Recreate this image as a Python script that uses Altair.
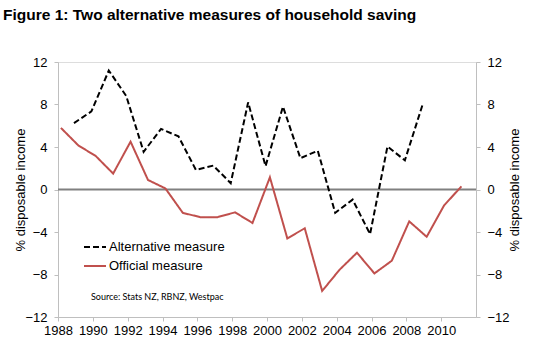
import altair as alt
import pandas as pd

# Official measure: March years 1988-2011
official_years = list(range(1988, 2012))
official_values = [5.8, 4.15, 3.15, 1.5, 4.5, 0.9, 0.1, -2.2, -2.6, -2.6, -2.15, -3.15,
                   1.15, -4.6, -3.65, -9.55, -7.55, -5.95, -7.9, -6.7, -3.0, -4.45, -1.5, 0.3]
official_month = 3

# Alternative measure: December years 1988-2008
alt_years = list(range(1988, 2009))
alt_values = [6.25, 7.35, 11.2, 8.8, 3.55, 5.7, 5.0, 1.85, 2.25, 0.6, 8.2, 2.2, 7.8,
              2.95, 3.65, -2.2, -0.95, -4.2, 4.05, 2.75, 7.9]
alt_month = 12

series_names = ["Alternative measure", "Official measure"]
series_colors = ["#000000", "#C0504D"]
x_ticks = list(range(1988, 2011, 2))
y_ticks = [-12, -8, -4, 0, 4, 8, 12]

rows = []
for y, v in zip(alt_years, alt_values):
    rows.append({"t": y + (alt_month - 1) / 12, "v": v, "s": series_names[0]})
for y, v in zip(official_years, official_values):
    rows.append({"t": y + (official_month - 1) / 12, "v": v, "s": series_names[1]})
df = pd.DataFrame(rows)

FONT = "Liberation Sans, Arial"
W, H = 418, 255

xscale = alt.Scale(domain=[1988, 2012], nice=False, zero=False)
yscale = alt.Scale(domain=[-12, 12], nice=False)


def yaxis(orient, tx):
    return alt.Axis(orient=orient, values=y_ticks, title="% disposable income", grid=False,
                    tickSize=4, labelPadding=7, labelFontSize=13, labelFont=FONT,
                    labelColor="#000", domainColor="#BFBFBF", tickColor="#BFBFBF",
                    titleFont=FONT, titleFontSize=13, titleFontWeight="normal",
                    titleColor="#000", titleAngle=270, titleX=tx, titleY=H / 2,
                    titleAlign="center", titleBaseline="middle")


legend = alt.Legend(title=None, orient="none", legendX=25, legendY=173,
                    symbolType="stroke", symbolSize=484, symbolStrokeWidth=2,
                    labelFont=FONT, labelFontSize=13, labelColor="#000",
                    labelOffset=2, rowPadding=-2, padding=0)

lines = alt.Chart(df).mark_line(strokeWidth=2).encode(
    x=alt.X("t:Q", scale=xscale,
            axis=alt.Axis(values=x_ticks, format="d", title=None, grid=False,
                          tickSize=4, labelPadding=3, labelFontSize=13,
                          labelFont=FONT, labelColor="#000", domainColor="#BFBFBF",
                          tickColor="#BFBFBF", labelFlush=False, labelOverlap=False)),
    y=alt.Y("v:Q", scale=yscale, axis=yaxis("left", -38)),
    color=alt.Color("s:N", scale=alt.Scale(domain=series_names, range=series_colors),
                    legend=legend),
    strokeDash=alt.StrokeDash("s:N", scale=alt.Scale(domain=series_names,
                                                     range=[[6, 3], [1, 0]]),
                              legend=legend),
)

zero = alt.Chart(pd.DataFrame({"z": [0]})).mark_rule(color="#808080", strokeWidth=2).encode(
    y=alt.Y("z:Q", scale=yscale, axis=None)
)

right_axis = alt.Chart(pd.DataFrame({"z": [0]})).mark_rule(opacity=0).encode(
    y=alt.Y("z:Q", scale=yscale, axis=yaxis("right", 38))
)

source = alt.Chart(pd.DataFrame({"txt": ["Source: Stats NZ, RBNZ, Westpac"]})).mark_text(
    align="left", baseline="middle", font="Lato, Open Sans", fontSize=9, color="#000"
).encode(x=alt.value(33), y=alt.value(235), text="txt:N")

chart = alt.layer(zero, lines, source, right_axis).resolve_scale(y="independent").properties(
    width=W, height=H,
    autosize=alt.AutoSizeParams(type="none"),
    padding={"left": 58, "top": 62, "right": 64, "bottom": 35},
    title=alt.TitleParams("Figure 1: Two alternative measures of household saving",
                          anchor="start", frame="group", font="Liberation Sans",
                          fontSize=15.5, fontWeight="bold", color="#000",
                          dx=-55, offset=21, baseline="alphabetic"),
).configure_view(stroke=None).configure(background="white")

chart.save("out.html", embed_options={"renderer": "svg", "actions": False})
